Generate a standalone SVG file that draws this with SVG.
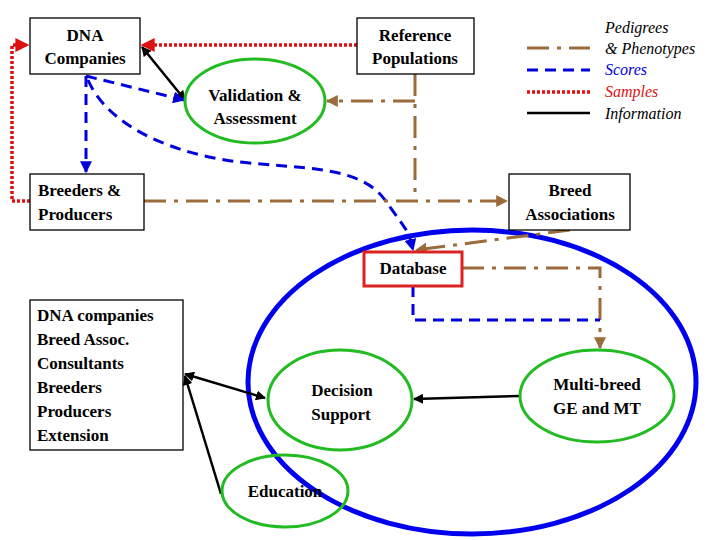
<svg xmlns="http://www.w3.org/2000/svg" width="720" height="540" viewBox="0 0 720 540" font-family="'Liberation Serif', 'Times New Roman', 'DejaVu Serif', serif">
<style>
text{font-family:'Liberation Serif','Times New Roman','DejaVu Serif',serif;font-size:17px;font-weight:bold;fill:#000}
.it{font-style:italic;font-weight:normal;font-size:16px}
.box{fill:#fff;stroke:#000;stroke-width:1.3}
.ell{fill:none;stroke:#22bb22;stroke-width:3}
.red{fill:none;stroke:#dd1111;stroke-width:3.5;stroke-dasharray:3 2}
.blue{fill:none;stroke:#0000dd;stroke-width:3;stroke-dasharray:11 7}
.brown{fill:none;stroke:#9b6b3c;stroke-width:3;stroke-dasharray:22 8 4 8}
.blk{fill:none;stroke:#000;stroke-width:2.5}
</style>
<defs>
<marker id="ar" viewBox="0 0 10 10" refX="9" refY="5" markerWidth="4" markerHeight="4" orient="auto-start-reverse"><path d="M0,0L10,5L0,10z" fill="#dd1111"/></marker>
<marker id="ab" viewBox="0 0 10 10" refX="9" refY="5" markerWidth="4" markerHeight="4" orient="auto-start-reverse"><path d="M0,0L10,5L0,10z" fill="#0000dd"/></marker>
<marker id="abr" viewBox="0 0 10 10" refX="9" refY="5" markerWidth="4" markerHeight="4" orient="auto-start-reverse"><path d="M0,0L10,5L0,10z" fill="#9b6b3c"/></marker>
<marker id="ak" viewBox="0 0 10 10" refX="9" refY="5" markerWidth="4" markerHeight="4" orient="auto-start-reverse"><path d="M0,0L10,5L0,10z" fill="#000"/></marker>
</defs>
<ellipse cx="472" cy="382" rx="224" ry="152" fill="none" stroke="#0000ee" stroke-width="5"/>
<g id="legend">
<line x1="527" y1="48" x2="590" y2="48" class="brown"/>
<line x1="527" y1="70" x2="590" y2="70" class="blue"/>
<line x1="527" y1="92" x2="590" y2="92" class="red" stroke-width="3"/>
<line x1="527" y1="113" x2="590" y2="113" stroke="#000" stroke-width="2.5"/>
<text x="605" y="33" class="it">Pedigrees</text>
<text x="605" y="54" class="it">&amp; Phenotypes</text>
<text x="605" y="75" class="it" style="fill:#0000dd">Scores</text>
<text x="605" y="97" class="it" style="fill:#dd1111">Samples</text>
<text x="605" y="119" class="it">Information</text>
</g>
<g id="connectors">
<path d="M357,45H142" class="red" marker-end="url(#ar)"/>
<path d="M30,201H12V45H28" class="red" marker-end="url(#ar)"/>
<path d="M142,47L185,100" class="blk" marker-start="url(#ak)" marker-end="url(#ak)"/>
<path d="M86,76L184,100" class="blue" marker-end="url(#ab)"/>
<path d="M86,76V172" class="blue" marker-end="url(#ab)"/>
<path d="M88,80C110,130 180,155 240,162S360,165 385,200S408,230 413,250" class="blue" marker-end="url(#ab)"/>
<path d="M415,74V201" class="brown"/>
<path d="M415,101H327" class="brown" marker-end="url(#abr)"/>
<path d="M144,201H507" class="brown" marker-end="url(#abr)"/>
<path d="M570,230L416,250" class="brown" marker-end="url(#abr)"/>
<path d="M462,268H600V348" class="brown" marker-end="url(#abr)"/>
<path d="M413,286V320H600" class="blue"/>
<path d="M520,396L414,399" class="blk" marker-end="url(#ak)"/>
<path d="M265,398L185,374" class="blk" marker-start="url(#ak)" marker-end="url(#ak)"/>
<path d="M221,494L185,376" class="blk" marker-end="url(#ak)"/>
</g>
<g id="dna"><rect x="30" y="18" width="110" height="56" class="box"/><text x="85" y="41" text-anchor="middle">DNA</text><text x="85" y="64" text-anchor="middle">Companies</text></g>
<g id="ref"><rect x="357" y="18" width="117" height="56" class="box"/><text x="415" y="41" text-anchor="middle">Reference</text><text x="415" y="64" text-anchor="middle">Populations</text></g>
<g id="validation"><ellipse cx="255" cy="101" rx="70" ry="42" class="ell" fill="#fff"/><text x="255" y="101" text-anchor="middle">Validation &amp;</text><text x="255" y="124" text-anchor="middle">Assessment</text></g>
<g id="breeders"><rect x="30" y="174" width="114" height="56" class="box"/><text x="38" y="196">Breeders &amp;</text><text x="38" y="220">Producers</text></g>
<g id="breedassoc"><rect x="509" y="174" width="121" height="56" class="box"/><text x="570" y="196" text-anchor="middle">Breed</text><text x="570" y="220" text-anchor="middle">Associations</text></g>
<g id="database"><rect x="364" y="252" width="98" height="34" fill="#fff" stroke="#dd2222" stroke-width="3"/><text x="413" y="274" text-anchor="middle">Database</text></g>
<g id="users"><rect x="30" y="300" width="153" height="150" class="box"/>
<text x="37" y="321">DNA companies</text><text x="37" y="345">Breed Assoc.</text><text x="37" y="369">Consultants</text><text x="37" y="393">Breeders</text><text x="37" y="417">Producers</text><text x="37" y="441">Extension</text></g>
<g id="decision"><ellipse cx="340" cy="400" rx="72" ry="50" class="ell"/><text x="342" y="396" text-anchor="middle">Decision</text><text x="341" y="420" text-anchor="middle">Support</text></g>
<g id="education"><ellipse cx="285" cy="491" rx="63" ry="36" class="ell"/><text x="285" y="497" text-anchor="middle">Education</text></g>
<g id="multibreed"><ellipse cx="597" cy="396" rx="77" ry="46" class="ell"/><text x="597" y="390" text-anchor="middle">Multi-breed</text><text x="597" y="414" text-anchor="middle">GE and MT</text></g>
</svg>
